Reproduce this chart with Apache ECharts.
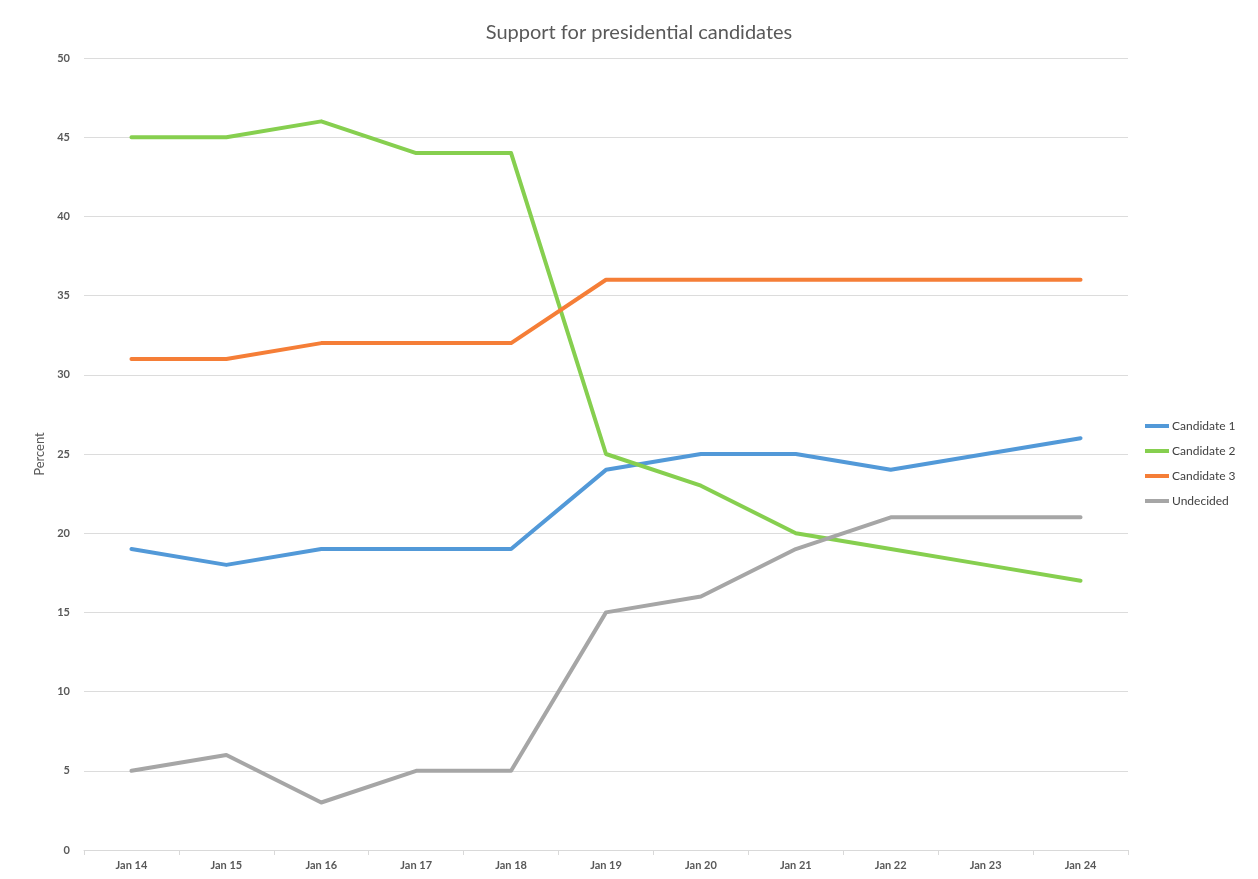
<!DOCTYPE html>
<html><head><meta charset="utf-8">
<script src="https://cdn.jsdelivr.net/npm/echarts@6/dist/echarts.min.js"></script>
<style>html,body{margin:0;padding:0;background:#fff}#c{width:1258px;height:879px}</style>
</head><body><div id="c"></div>
<script>
const categories = ['Jan 14','Jan 15','Jan 16','Jan 17','Jan 18','Jan 19','Jan 20','Jan 21','Jan 22','Jan 23','Jan 24'];
const candidate1 = [19,18,19,19,19,24,25,25,24,25,26];
const candidate2 = [45,45,46,44,44,25,23,20,19,18,17];
const candidate3 = [31,31,32,32,32,36,36,36,36,36,36];
const undecided = [5,6,3,5,5,15,16,19,21,21,21];
const seriesNames = ['Candidate 1','Candidate 2','Candidate 3','Undecided'];
const seriesData = [candidate1, candidate2, candidate3, undecided];
const colors = ['#5299d8','#86cf4f','#f57e37','#a6a6a6'];
const font = 'Lato, "Open Sans", sans-serif';
const chart = echarts.init(document.getElementById('c'));
chart.setOption({
  animation:false,
  color: colors,
  title:{text:'Support for presidential candidates',left:634,top:18,textAlign:'center',
    textStyle:{fontFamily:font,fontSize:20,fontWeight:'normal',color:'#595959'}},
  legend:{orient:'vertical',left:1145,top:420,padding:0,itemWidth:24,itemHeight:4,itemGap:13,
    icon:'rect',
    textStyle:{fontFamily:font,fontSize:12,color:'#404040',padding:[0,0,0,-2]},
    data:seriesNames},
  grid:{left:84,right:130,top:58,bottom:29,containLabel:false},
  xAxis:{type:'category',data:categories,boundaryGap:true,
    axisLine:{lineStyle:{color:'#d9d9d9',width:1}},
    axisTick:{show:true,length:5,inside:false,lineStyle:{color:'#d9d9d9'}},
    axisLabel:{fontFamily:font,fontSize:11,color:'#595959',margin:10,fontWeight:'bold'}},
  yAxis:{type:'value',min:0,max:50,interval:5,name:'Percent',nameLocation:'middle',nameGap:36,
    nameTextStyle:{fontFamily:font,fontSize:13,color:'#595959'},
    axisLine:{show:false},axisTick:{show:false},
    axisLabel:{fontFamily:font,fontSize:11,color:'#595959',margin:14,fontWeight:'bold'},
    splitLine:{lineStyle:{color:'#dcdcdc',width:1}}},
  series: seriesNames.map((n,i)=>({name:n,type:'line',data:seriesData[i],symbol:'none',
    lineStyle:{width:4,cap:'round',join:'round'}}))
});
</script></body></html>
